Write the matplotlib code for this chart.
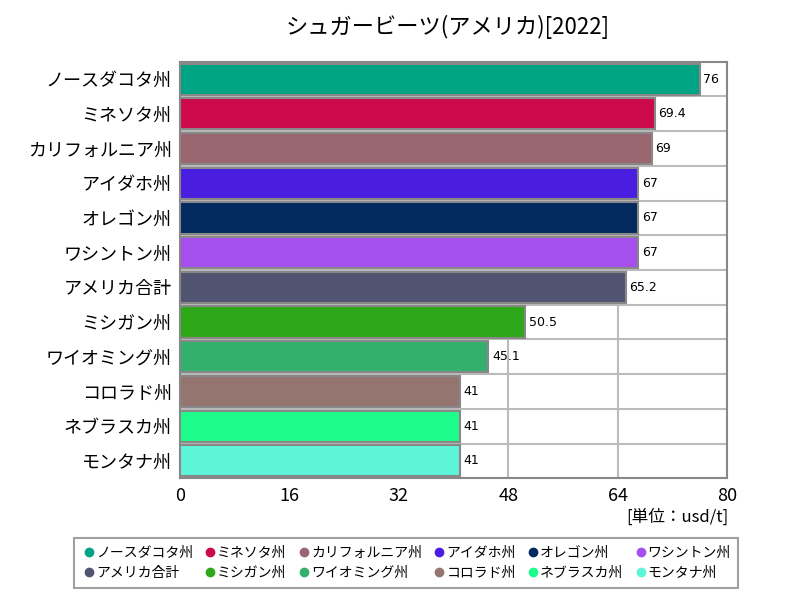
import matplotlib
matplotlib.use('Agg')
import matplotlib.pyplot as plt
from matplotlib.lines import Line2D

plt.rcParams['font.family'] = ['Noto Sans CJK JP', 'DejaVu Sans']

states = ['ノースダコタ州', 'ミネソタ州', 'カリフォルニア州', 'アイダホ州', 'オレゴン州', 'ワシントン州',
          'アメリカ合計', 'ミシガン州', 'ワイオミング州', 'コロラド州', 'ネブラスカ州', 'モンタナ州']
values = [76, 69.4, 69, 67, 67, 67, 65.2, 50.5, 45.1, 41, 41, 41]
labels = ['76', '69.4', '69', '67', '67', '67', '65.2', '50.5', '45.1', '41', '41', '41']
colors = ['#00a383', '#cc0a4b', '#9a6670', '#4a1ee0', '#032a5e', '#a64fef',
          '#505470', '#2ea819', '#33b06c', '#957570', '#1efc8c', '#5ef4d8']
xticks = [0, 16, 32, 48, 64, 80]

fig = plt.figure(figsize=(8, 6), dpi=100)
ax = fig.add_axes([0.225, 0.203, 0.684, 0.694])

y = list(range(len(states)))
ax.barh(y, values, height=0.9, color=colors, edgecolor='#888888', linewidth=1.5, zorder=3)
for i, (v, t) in enumerate(zip(values, labels)):
    ax.text(v + 0.5, i, t, va='center', ha='left', fontsize=9, family='DejaVu Sans', zorder=4)

ax.set_ylim(len(states) - 0.5, -0.5)
ax.set_xlim(0, 80)
ax.set_xticks(xticks)
ax.set_xticklabels([str(t) for t in xticks], fontsize=13)
ax.set_yticks(y)
ax.set_yticklabels(states, fontsize=13)
ax.tick_params(length=0, pad=6)
for b in [i + 0.5 for i in range(len(states) - 1)]:
    ax.axhline(b, color='#bbbbbb', linewidth=1.5, zorder=1)
for xv in xticks[1:-1]:
    ax.axvline(xv, color='#bbbbbb', linewidth=1.5, zorder=1)
for s in ax.spines.values():
    s.set_color('#888888')
    s.set_linewidth(1.5)

fig.text(0.56, 0.955, 'シュガービーツ(アメリカ)[2022]', ha='center', va='center', fontsize=16)
fig.text(0.91, 0.138, '[単位：usd/t]', ha='right', va='center', fontsize=12)

# legend is filled column by column, so interleave to get row order
ncol = 6
order = []
for c in range(ncol):
    order += [c, c + ncol]
handles = [Line2D([], [], marker='o', linestyle='', color=colors[i], markersize=6) for i in order]
names = [states[i] for i in order]
leg = fig.legend(handles, names, loc='center', bbox_to_anchor=(0.508, 0.062), ncol=ncol,
                 fontsize=10, handletextpad=0.0, columnspacing=0.75, borderpad=0.55,
                 handlelength=1.0, labelspacing=0.45,
                 frameon=True, fancybox=False, edgecolor='#888888')
leg.get_frame().set_linewidth(1.5)

plt.savefig('out.png', dpi=100)
